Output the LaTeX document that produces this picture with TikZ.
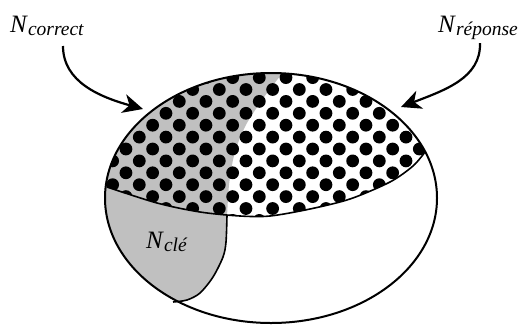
\documentclass[tikz,border=0pt]{standalone}
\usepackage{fontspec}
\setmainfont{Liberation Serif}
\usetikzlibrary{arrows.meta}
\definecolor{keygray}{RGB}{192,192,192}
\newcommand\nlabel[1]{\fontsize{25}{25}\selectfont\textit{N}\raisebox{-3pt}{\fontsize{19.5}{19.5}\selectfont\textit{#1}}}
\begin{document}
\begin{tikzpicture}[x=1pt,y=-1pt,
  outline/.style={line width=2pt},
  divider/.style={line width=1.6pt},
  pointer/.style={line width=2.2pt,-{Stealth[length=20pt,width=19pt,inset=6pt]}},
  lbl/.style={anchor=base west,inner sep=0pt}]
\useasboundingbox (0,0) rectangle (519,325);
\coordinate (O) at (271,198);
% gray region
\begin{scope}
  \clip (O) ellipse [x radius=166pt, y radius=125pt];
  \fill[keygray] plot[smooth] coordinates {(283,73) (277,80) (262,100) (247,123) (238,143) (233,160) (229,185) (227,217) (226,242) (223,257) (213,277) (200,293) (187,300) (173,302)}
     -- (60,330) -- (60,60) -- (290,60) -- cycle;
\end{scope}
% dotted region
\begin{scope}
  \clip (O) ellipse [x radius=166pt, y radius=125pt];
  \clip plot[smooth] coordinates {(107,187) (157,203) (200,212) (240,216) (270,216) (310,209) (350,199) (390,182) (413,166) (425,152)}
     -- (470,140) -- (470,40) -- (70,40) -- (70,180) -- cycle;
  \foreach \j in {-2,...,12} {
    \foreach \k in {-6,...,10} {
      \pgfmathsetmacro\yy{89.5+11.9*\j}
      \pgfmathsetmacro\xx{219.3+26.67*\k+13.33*mod(\j+10,2)}
      \fill (\xx,\yy) circle [radius=6.4pt];
    }
  }
\end{scope}
% dividing lines
\draw[divider] plot[smooth] coordinates {(107,187) (157,203) (200,212) (240,216) (270,216) (310,209) (350,199) (390,182) (413,166) (425,152)};
\draw[divider] plot[smooth] coordinates {(227,215) (226,242) (223,257) (213,277) (200,293) (187,300) (173,302)};
% outer ellipse
\draw[outline] (O) ellipse [x radius=166pt, y radius=125pt];
% labels
\node[lbl] (ncorrect) at (10,32) {\nlabel{correct}};
\node[lbl,anchor=base east] (nreponse) at (518,32) {\nlabel{réponse}};
\node[lbl] (ncle) at (146,248) {\nlabel{clé}};
% arrows
\coordinate (a1s) at (63,46);
\coordinate (a1e) at (143,109);
\coordinate (a2s) at (480,43);
\coordinate (a2e) at (401,107);
\draw[pointer] (a1s) .. controls (63,82) and (100,97) .. (a1e);
\draw[pointer] (a2s) .. controls (481,78) and (445,90) .. (a2e);
\end{tikzpicture}
\end{document}
